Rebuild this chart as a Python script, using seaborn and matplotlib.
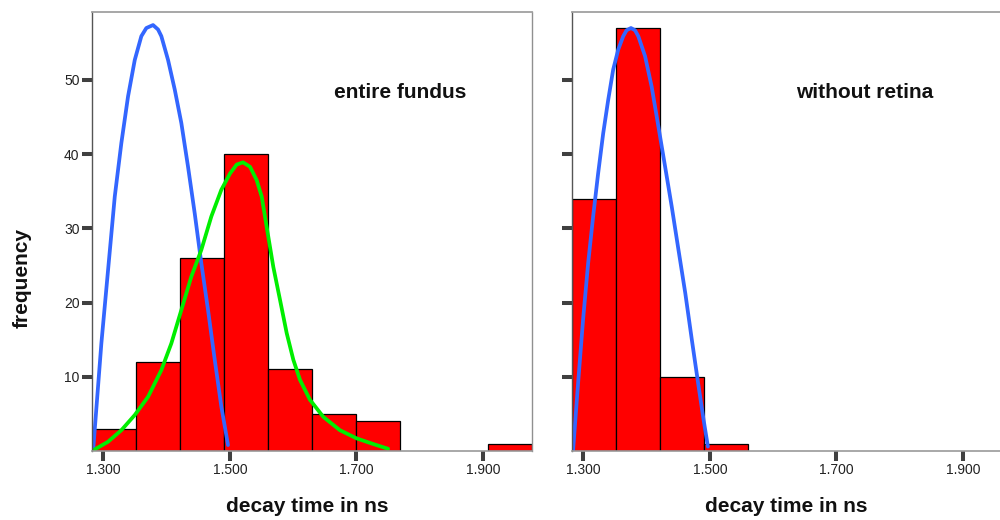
import matplotlib
matplotlib.use("Agg")
import matplotlib.pyplot as plt
import seaborn as sns

# histogram bins (ns) and counts
bin_edges = [1.282, 1.3515, 1.421, 1.4905, 1.560, 1.6295, 1.699, 1.7685, 1.838, 1.9075, 1.977]
counts_fundus = [3, 12, 26, 40, 11, 5, 4, 0, 0, 1]
counts_no_retina = [34, 57, 10, 1, 0, 0, 0, 0, 0, 0]

# fitted curves
blue_left_x = [1.284, 1.2968, 1.3074, 1.318, 1.3284, 1.339, 1.3496, 1.3548, 1.360, 1.3679,
               1.3785, 1.3864, 1.3916, 1.4022, 1.4128, 1.4232, 1.4338, 1.4444, 1.4548, 1.4654,
               1.476, 1.4864, 1.497]
blue_left_y = [0.3, 14.5, 24.4, 34.3, 41.5, 47.8, 52.7, 54.3, 55.9, 57.0,
               57.4, 56.8, 55.9, 52.7, 48.7, 44.2, 38.3, 32.0, 25.3, 19.0,
               12.3, 6.0, 0.8]

green_x = [1.282, 1.3074, 1.3284, 1.3496, 1.3706, 1.3916, 1.4074, 1.4232, 1.439, 1.4548,
           1.4706, 1.4864, 1.5002, 1.5107, 1.5207, 1.5318, 1.5423, 1.5502, 1.5581, 1.5686,
           1.5791, 1.5897, 1.6002, 1.6107, 1.6265, 1.6476, 1.6739, 1.7003, 1.7265, 1.750]
green_y = [0.0, 1.25, 2.8, 4.85, 7.3, 10.9, 14.5, 19.0, 23.5, 27.1,
           31.6, 35.2, 37.4, 38.6, 38.9, 38.3, 36.5, 34.3, 30.2, 24.8,
           20.4, 15.9, 12.3, 9.6, 6.9, 4.6, 2.8, 1.7, 0.94, 0.3]

blue_right_x = [1.2837, 1.2916, 1.2995, 1.3075, 1.3154, 1.3233, 1.3313, 1.3392, 1.3471, 1.3551,
                1.363, 1.3683, 1.3752, 1.3816, 1.3868, 1.3975, 1.4079, 1.4186, 1.4292, 1.4397,
                1.4503, 1.461, 1.4714, 1.4821, 1.490, 1.4968]
blue_right_y = [0.1, 9.1, 17.7, 25.3, 31.6, 37.4, 42.8, 47.3, 51.4, 54.1,
                55.9, 56.7, 57.0, 56.7, 55.9, 53.2, 49.1, 43.7, 38.3, 32.9,
                27.1, 21.3, 15.0, 8.7, 4.2, 0.6]

panel_titles = ["entire fundus", "without retina"]
x_ticks = [1.3, 1.5, 1.7, 1.9]
x_tick_labels = ["1.300", "1.500", "1.700", "1.900"]
y_ticks = [10, 20, 30, 40, 50]

sns.set_style("white")
plt.rcParams["font.family"] = ["Liberation Sans", "DejaVu Sans"]

fig = plt.figure(figsize=(10, 5.2), dpi=100)
ax1 = fig.add_axes([0.092, 0.1327, 0.4397, 0.8448])
ax2 = fig.add_axes([0.572, 0.1327, 0.4397, 0.8448])

centers = [(a + b) / 2 for a, b in zip(bin_edges[:-1], bin_edges[1:])]

for ax, counts, title, tx in [(ax1, counts_fundus, panel_titles[0], 0.70),
                              (ax2, counts_no_retina, panel_titles[1], 0.665)]:
    sns.histplot(x=centers, weights=counts, bins=bin_edges, ax=ax,
                 color="#ff0000", edgecolor="black", linewidth=0.9, alpha=1)
    # hide empty bins so they leave no outline on the baseline
    for p in ax.patches:
        if p.get_height() == 0:
            p.set_visible(False)
    ax.set_xlim(1.282, 1.977)
    ax.set_ylim(0, 59.2)
    ax.set_xticks(x_ticks)
    ax.set_xticklabels(x_tick_labels)
    ax.set_yticks(y_ticks)
    ax.set_xlabel("")
    ax.set_ylabel("")
    ax.tick_params(axis="both", direction="out", length=7, width=2.9,
                   color="#404040", labelsize=10, labelcolor="#222222", pad=2)
    ax.tick_params(axis="x", bottom=True)
    ax.tick_params(axis="y", left=True)
    ax.spines["left"].set_color("#555555")
    ax.spines["left"].set_linewidth(1.0)
    ax.spines["top"].set_color("#a0a0a0")
    ax.spines["top"].set_linewidth(1.3)
    ax.spines["right"].set_color("#909090")
    ax.spines["right"].set_linewidth(1.0)
    ax.spines["bottom"].set_color("#999999")
    ax.spines["bottom"].set_linewidth(1.2)
    ax.text(tx, 0.815, title, transform=ax.transAxes, ha="center", va="center",
            fontsize=15, fontweight="bold", color="#111111")

ax2.set_yticklabels([])

line_kw = dict(linewidth=2.7, sort=False, solid_joinstyle="round", solid_capstyle="round")
sns.lineplot(x=blue_left_x, y=blue_left_y, ax=ax1, color="#3366ff", **line_kw)
sns.lineplot(x=green_x, y=green_y, ax=ax1, color="#00ee00", **line_kw)
sns.lineplot(x=blue_right_x, y=blue_right_y, ax=ax2, color="#3366ff", **line_kw)

fig.text(0.307, 1 - 507 / 520, "decay time in ns", ha="center", va="center",
         fontsize=15, fontweight="bold", color="#111111")
fig.text(0.786, 1 - 507 / 520, "decay time in ns", ha="center", va="center",
         fontsize=15, fontweight="bold", color="#111111")
fig.text(0.022, 1 - 278 / 520, "frequency", ha="center", va="center", rotation=90,
         fontsize=15, fontweight="bold", color="#111111")

fig.savefig("out.png", dpi=100)
